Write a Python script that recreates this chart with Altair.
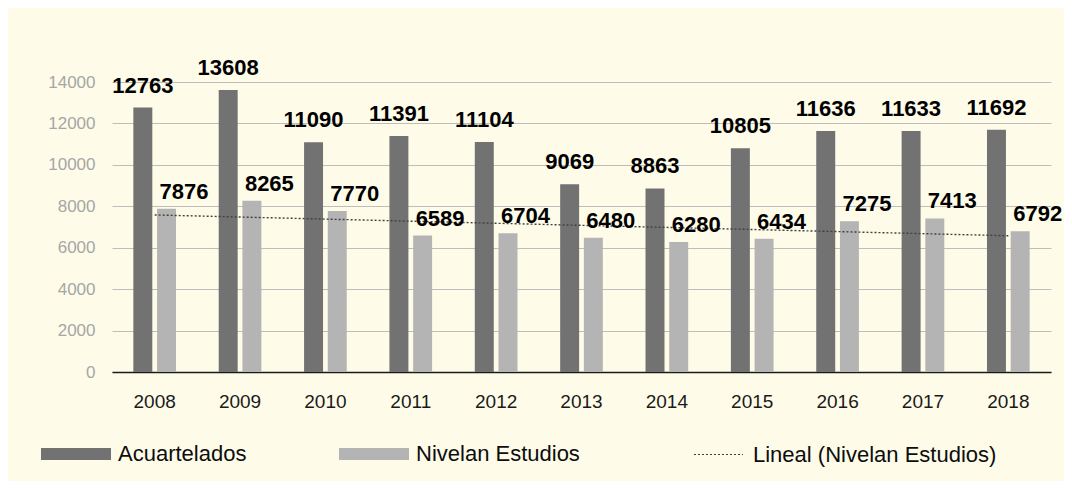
import altair as alt
import pandas as pd

years = ["2008", "2009", "2010", "2011", "2012", "2013", "2014", "2015", "2016", "2017", "2018"]
acuartelados = [12763, 13608, 11090, 11391, 11104, 9069, 8863, 10805, 11636, 11633, 11692]
nivelan = [7876, 8265, 7770, 6589, 6704, 6480, 6280, 6434, 7275, 7413, 6792]
series_names = ["Acuartelados", "Nivelan Estudios"]
trend_name = "Lineal (Nivelan Estudios)"
y_ticks = [0, 2000, 4000, 6000, 8000, 10000, 12000, 14000]

rows = []
for i, y in enumerate(years):
    rows.append({"year": y, "yearnum": int(y), "series": series_names[0], "value": acuartelados[i]})
    rows.append({"year": y, "yearnum": int(y), "series": series_names[1], "value": nivelan[i]})
df = pd.DataFrame(rows)

FONT = "Liberation Sans"
DARK = "#727272"
LIGHT = "#b4b4b4"
BG = "#fefce9"

xscale = alt.Scale(domain=years, paddingInner=0.5, paddingOuter=0.25)
xoff = alt.XOffset("series:N", scale=alt.Scale(domain=series_names, paddingInner=0.2, paddingOuter=0))
yscale = alt.Scale(domain=[0, 14000], nice=False)

xaxis = alt.Axis(title=None, labelFont=FONT, labelFontSize=19, labelColor="#1a1a1a",
                 labelPadding=20, ticks=False, domainColor="#1a1a1a", domainWidth=1.3,
                 grid=False, labelAngle=0)
yaxis = alt.Axis(title=None, values=y_ticks, format="d", labelFont=FONT, labelFontSize=17,
                 labelColor="#a6a6a6", labelPadding=17, ticks=False, domain=False,
                 gridColor="#bdbdbd", gridWidth=1)

base = alt.Chart(df)

bars = base.mark_bar().encode(
    x=alt.X("year:N", scale=xscale, axis=xaxis),
    xOffset=xoff,
    y=alt.Y("value:Q", scale=yscale, axis=yaxis),
    fill=alt.Fill("series:N",
                  scale=alt.Scale(domain=series_names, range=[DARK, LIGHT]),
                  legend=alt.Legend(title=None, orient="none", legendX=-71, legendY=337,
                                    direction="horizontal", symbolType="M-1,-0.17H1V0.17H-1Z",
                                    symbolSize=4900, symbolStrokeWidth=0, labelOffset=7,
                                    columnPadding=92, labelFont=FONT, labelFontSize=22,
                                    labelColor="#0d0d0d", padding=0, labelLimit=400)),
)

trend = base.transform_filter(
    alt.datum.series == series_names[1]
).transform_regression(
    "yearnum", "value", method="linear"
).transform_calculate(
    yr="toString(datum.yearnum)", kind=f"'{trend_name}'"
).mark_line(color="#404040", strokeWidth=1.4).encode(
    x=alt.X("yr:N", scale=xscale, bandPosition=0.5, axis=xaxis),
    y=alt.Y("value:Q", scale=yscale, axis=yaxis),
    strokeDash=alt.StrokeDash("kind:N",
                              scale=alt.Scale(domain=[trend_name], range=[[2, 2]]),
                              legend=alt.Legend(title=None, orient="none", legendX=581, legendY=347,
                                                symbolType="stroke", symbolSize=2401,
                                                symbolStrokeColor="#404040", symbolStrokeWidth=1.2,
                                                labelOffset=9, labelFont=FONT, labelFontSize=22,
                                                labelColor="#0d0d0d", padding=0, labelLimit=400)),
)

dark_labels = base.transform_filter(
    alt.datum.series == series_names[0]
).mark_text(font=FONT, fontSize=22, fontWeight="bold", color="#000000",
            baseline="alphabetic", align="center", dy=-15).encode(
    x=alt.X("year:N", scale=xscale, axis=xaxis),
    xOffset=xoff,
    y=alt.Y("value:Q", scale=yscale, axis=yaxis),
    text=alt.Text("value:Q", format="d"),
)

light_labels = base.transform_filter(
    alt.datum.series == series_names[1]
).mark_text(font=FONT, fontSize=22, fontWeight="bold", color="#000000",
            baseline="alphabetic", align="left", dx=-7, dy=-10).encode(
    x=alt.X("year:N", scale=xscale, axis=xaxis),
    xOffset=xoff,
    y=alt.Y("value:Q", scale=yscale, axis=yaxis),
    text=alt.Text("value:Q", format="d"),
)

chart = alt.layer(bars, trend, dark_labels, light_labels).properties(
    width=939, height=290,
    autosize=alt.AutoSizeParams(type="none"),
    padding={"left": 104, "top": 74, "right": 13, "bottom": 109},
).configure(background=BG).configure_view(strokeWidth=0)

chart.save("out.html", embed_options={"renderer": "svg", "actions": False})
